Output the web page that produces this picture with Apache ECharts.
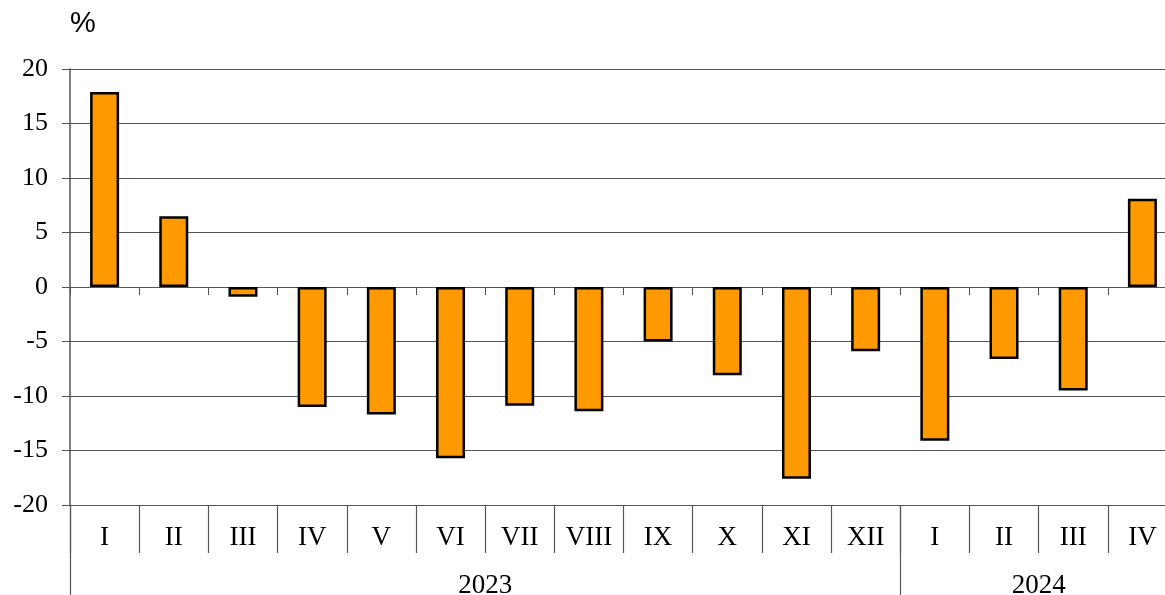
<!DOCTYPE html>
<html>
<head>
<meta charset="utf-8">
<script src="https://cdn.jsdelivr.net/npm/echarts@6/dist/echarts.min.js"></script>
<style>
html,body{margin:0;padding:0;background:#fff;}
#chart{width:1165px;height:595px;}
</style>
</head>
<body>
<div id="chart"></div>
<script>
const categories = ['I','II','III','IV','V','VI','VII','VIII','IX','X','XI','XII','I','II','III','IV'];
const values = [17.9, 6.5, -0.9, -11.0, -11.7, -15.7, -10.9, -11.4, -5.0, -8.1, -17.6, -5.9, -14.1, -6.6, -9.5, 8.1];
const years = ['2023', '2024'];
const yearSpans = [12, 4];
const yTicks = [-20, -15, -10, -5, 0, 5, 10, 15, 20];
const unitLabel = '%';

// year boundaries and centres, in category units
const yearBounds = [0];
const yearCentres = [];
yearSpans.forEach(function (s, i) {
  const start = yearBounds[yearBounds.length - 1];
  yearCentres.push(start + s / 2);
  yearBounds.push(start + s);
});

const chart = echarts.init(document.getElementById('chart'));
const serif = 'Liberation Serif';
const lineCol = '#555';

chart.setOption({
  animation: false,
  backgroundColor: '#fff',
  graphic: [{
    type: 'text', left: 70, top: 9,
    style: { text: unitLabel, font: '29px "Liberation Sans"', fill: '#000' }
  }],
  grid: { left: 70, width: 1107, top: 69, bottom: 90, containLabel: false, outerBoundsMode: 'none' },
  yAxis: {
    type: 'value', min: yTicks[0], max: yTicks[yTicks.length - 1], interval: 5,
    axisLine: { show: true, lineStyle: { color: lineCol, width: 1.5 } },
    axisTick: { show: true, length: 8, lineStyle: { color: lineCol } },
    axisLabel: { fontFamily: serif, fontSize: 26, color: '#000', margin: 22 },
    splitLine: { show: true, lineStyle: { color: lineCol, width: 1.2 } }
  },
  xAxis: [
    {
      type: 'category', data: categories, position: 'bottom',
      axisLine: { show: true, onZero: true, lineStyle: { color: lineCol, width: 1.2 } },
      axisTick: { show: true, length: 8, lineStyle: { color: lineCol } },
      axisLabel: { show: false }
    },
    {
      type: 'category', data: categories, position: 'bottom',
      axisLine: { show: true, onZero: false, lineStyle: { color: lineCol, width: 1.2 } },
      axisTick: { show: true, length: 48, lineStyle: { color: lineCol, width: 1.2 } },
      axisLabel: { fontFamily: serif, fontSize: 27, color: '#000', margin: 19 }
    },
    {
      type: 'value', position: 'bottom', min: 0, max: categories.length,
      axisLine: { show: false, onZero: false },
      splitLine: { show: false },
      axisTick: { show: true, length: 90, customValues: yearBounds, lineStyle: { color: lineCol, width: 1.2 } },
      axisLabel: {
        fontFamily: serif, fontSize: 27, color: '#000', margin: 67,
        customValues: yearCentres,
        formatter: function (v) {
          const i = yearCentres.indexOf(v);
          return i >= 0 ? years[i] : '';
        }
      }
    }
  ],
  series: [{
    type: 'bar', data: values, xAxisIndex: 0, barWidth: 29,
    itemStyle: { color: '#FF9900', borderColor: '#000', borderWidth: 2.5 }
  }]
});
</script>
</body>
</html>
